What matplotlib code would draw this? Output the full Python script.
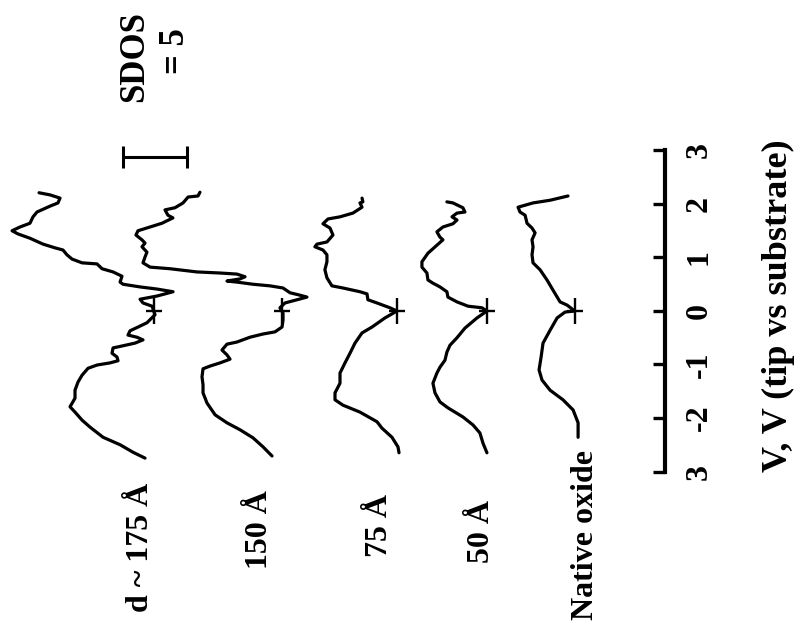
import matplotlib
matplotlib.use("Agg")
import matplotlib.pyplot as plt

plt.rcParams['font.family'] = ['Liberation Serif', 'DejaVu Serif']

# Voltage (V, tip vs substrate) and SDOS (SDOS relative to value at V = 0)
v_175 = [2.21, 2.17, 2.11, 2.02, 1.96, 1.85, 1.76, 1.64, 1.57, 1.50, 1.44, 1.36, 1.25, 1.18,
         1.14, 1.05, 0.97, 0.90, 0.88, 0.79, 0.73, 0.65, 0.54, 0.50, 0.45, 0.41, 0.36, 0.28,
         0.22, 0.15, 0.09, -0.07, -0.22, -0.30, -0.37, -0.45, -0.49, -0.54, -0.60, -0.65,
         -0.69, -0.79, -0.86, -0.93, -0.97, -1.01, -1.07, -1.20, -1.33, -1.48, -1.63, -1.79,
         -1.89, -2.04, -2.17, -2.36, -2.50, -2.64, -2.75]
s_175 = [9.06, 8.20, 7.42, 7.58, 8.20, 9.22, 9.53, 9.77, 10.55, 11.17, 10.70, 9.77, 8.75, 7.81,
         7.19, 6.88, 6.48, 5.70, 4.53, 4.14, 3.28, 2.58, 2.73, 2.50, 1.17, -0.16, -1.41, -0.16,
         1.17, 0.94, 0.23, 0.00, 0.63, 1.33, 1.95, 2.11, 1.41, 0.94, 1.56, 2.50,
         3.28, 3.36, 2.97, 2.89, 3.52, 4.53, 5.23, 5.70, 6.02, 6.25, 6.25, 6.64,
         6.25, 5.70, 5.08, 4.06, 2.73, 1.72, 0.78]

v_150 = [2.22, 2.15, 2.13, 2.02, 1.93, 1.89, 1.79, 1.74, 1.64, 1.57, 1.50, 1.42, 1.33, 1.27,
         1.20, 1.10, 1.01, 0.90, 0.82, 0.79, 0.73, 0.71, 0.69, 0.64, 0.60, 0.56, 0.54, 0.50,
         0.47, 0.43, 0.34, 0.30, 0.26, 0.21, 0.15, 0.06, -0.04, -0.17, -0.30, -0.39, -0.43,
         -0.49, -0.58, -0.62, -0.73, -0.82, -0.90, -0.97, -1.03, -1.08, -1.23, -1.38, -1.53,
         -1.72, -1.94, -2.09, -2.22, -2.37, -2.54, -2.71]
s_150 = [6.41, 6.56, 7.34, 7.73, 8.36, 9.14, 8.91, 8.52, 9.38, 10.31, 11.25, 11.41, 10.94, 10.70,
         10.94, 10.55, 10.70, 10.86, 10.31, 8.75, 6.64, 4.84, 3.52, 2.89, 3.28, 4.30, 3.52, 2.27,
         0.94, -0.08, -0.63, -1.33, -1.95, -1.17, -0.23, 0.16, -0.08, -0.08, 0.00, 0.55, 1.48,
         2.50, 3.52, 4.30, 4.69, 4.30, 4.06, 4.84, 5.63, 6.17, 6.25, 6.17, 6.17,
         5.86, 5.23, 4.30, 3.28, 2.27, 1.48, 0.78]

v_75 = [2.11, 2.04, 2.02, 1.94, 1.83, 1.76, 1.72, 1.63, 1.55, 1.42, 1.29, 1.25, 1.20, 1.14,
        1.05, 0.92, 0.77, 0.62, 0.47, 0.43, 0.36, 0.32, 0.21, 0.15, 0.06, 0.00, -0.13, -0.30,
        -0.41, -0.60, -0.79, -0.97, -1.16, -1.35, -1.53, -1.66, -1.76, -1.89, -2.07, -2.19,
        -2.36, -2.54, -2.65]
s_75 = [2.73, 2.66, 2.89, 2.73, 3.44, 4.45, 5.39, 5.78, 5.23, 5.00, 5.47, 6.25, 6.41, 5.78,
        5.47, 5.47, 5.63, 5.47, 5.08, 4.22, 2.89, 2.34, 2.27, 1.56, 0.55, 0.00, 0.94, 1.95,
        2.73, 3.28, 3.67, 4.06, 4.45, 4.45, 4.84, 4.84, 4.22, 2.89, 1.56, 1.17,
        0.39, -0.08, -0.16]

v_50 = [2.04, 2.02, 1.93, 1.85, 1.83, 1.76, 1.70, 1.63, 1.57, 1.48, 1.38, 1.33, 1.23, 1.08,
        0.92, 0.82, 0.71, 0.58, 0.52, 0.45, 0.36, 0.26, 0.17, 0.09, 0.06, 0.00, -0.13, -0.32,
        -0.50, -0.64, -0.77, -0.92, -1.05, -1.16, -1.35, -1.53, -1.70, -1.81, -1.98, -2.13,
        -2.28, -2.47, -2.65]
s_50 = [3.13, 2.66, 1.88, 1.72, 2.34, 2.73, 2.34, 2.66, 3.44, 3.91, 3.67, 3.44, 3.91, 4.61,
        5.08, 5.08, 4.69, 4.61, 4.22, 3.67, 3.13, 3.05, 2.34, 1.48, 0.39, 0.00, 0.78, 1.72,
        2.34, 2.89, 3.13, 3.28, 3.67, 3.91, 4.22, 4.06, 3.67, 3.05, 1.88, 1.09,
        0.55, 0.31, 0.00]

v_nat = [2.15, 2.07, 2.02, 1.94, 1.85, 1.79, 1.64, 1.55, 1.46, 1.33, 1.20, 1.05, 0.90, 0.77,
         0.58, 0.39, 0.17, 0.11, 0.00, -0.02, -0.13, -0.36, -0.60, -0.86, -1.10, -1.29, -1.48,
         -1.66, -1.85, -2.09, -2.36]
s_nat = [0.63, 2.03, 3.36, 4.53, 4.38, 3.98, 3.83, 3.44, 3.20, 3.44, 3.36, 3.44, 3.36, 2.81,
         2.27, 1.80, 1.25, 0.70, 0.10, 0.86, 1.48, 2.03, 2.58, 2.73, 2.89, 2.66, 2.03,
         1.02, 0.23, -0.16, -0.16]

curves_v = [v_175, v_150, v_75, v_50, v_nat]
curves_s = [s_175, s_150, s_75, s_50, s_nat]
labels = ["d ~ 175 Å", "150 Å", "75 Å", "50 Å", "Native oxide"]
offsets = [39.84, 29.92, 20.94, 13.91, 6.95]      # vertical stacking of the traces
marker_s = [0.08, 0.0, 0.0, 0.0, 0.1]              # SDOS at the "+" mark (V = 0)
label_pos = [(40.94, -4.41), (31.64, -4.09), (22.34, -4.00), (14.30, -4.13), (6.25, -4.19)]

v_ticks = [-3, -2, -1, 0, 1, 2, 3]
v_ticklabels = ["3", "-2", "-1", "0", "1", "2", "3"]
sdos_bar = 5

fig = plt.figure(figsize=(8.02, 6.26), dpi=100)
ax = fig.add_axes([0.0, 0.2468, 0.8292, 0.5128])

for v, s, off, ms in zip(curves_v, curves_s, offsets, marker_s):
    ax.plot([off + x for x in s], v, color='black', lw=2.3, solid_capstyle='round',
            solid_joinstyle='round', clip_on=False)
    ax.plot(off + ms, 0, marker='|', ms=19, mew=1.7, color='black', clip_on=False)
    ax.plot(off + ms, 0, marker='_', ms=12, mew=1.7, color='black', clip_on=False)

for lab, (x, y) in zip(labels, label_pos):
    ax.text(x, y, lab, rotation=90, ha='center', va='center', fontsize=23,
            fontweight='bold', clip_on=False)

# SDOS scale bar
ax.errorbar(39.84, 2.88, xerr=sdos_bar / 2, fmt='none', ecolor='black', elinewidth=2.2,
            capsize=8, capthick=2.2, clip_on=False)
ax.text(41.45, 4.76, "SDOS", rotation=90, ha='center', va='center', fontsize=25,
        fontweight='bold', clip_on=False)
ax.text(38.24, 4.86, "= 5", rotation=90, ha='center', va='center', fontsize=25,
        fontweight='bold', clip_on=False)

ax.set_xlim(51.95, 0)
ax.set_ylim(-3, 3)
ax.set_xticks([])
for side in ['left', 'top', 'bottom']:
    ax.spines[side].set_visible(False)
ax.spines['right'].set_linewidth(3)
ax.yaxis.tick_right()
ax.set_yticks(v_ticks)
ax.set_yticklabels(v_ticklabels, fontsize=23, fontweight='bold', rotation=90, va='center')
ax.tick_params(axis='y', direction='in', length=8.6, width=2.4, pad=14)
ax.yaxis.set_label_position('right')
ax.set_ylabel("V, V (tip vs substrate)", fontsize=26, fontweight='bold')
ax.yaxis.set_label_coords(1.146, 0.515)
ax.patch.set_visible(False)

fig.savefig("out.png", dpi=100)
